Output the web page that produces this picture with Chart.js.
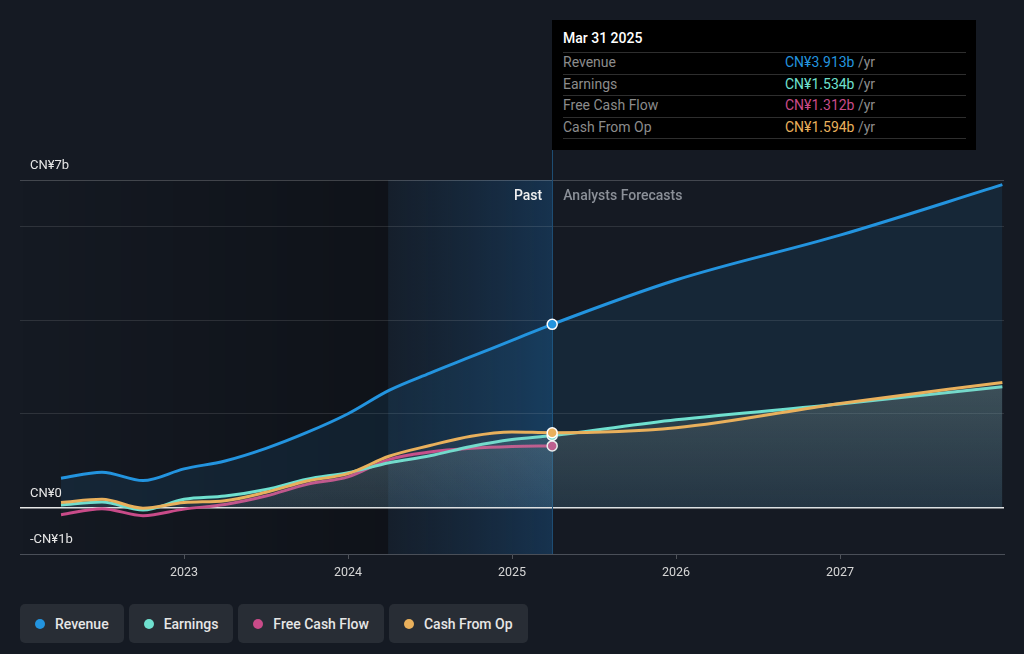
<!DOCTYPE html>
<html>
<head>
<meta charset="utf-8">
<script src="https://cdn.jsdelivr.net/npm/chart.js@4.4.1/dist/chart.umd.min.js"></script>
<style>
  html, body { margin: 0; padding: 0; background: #151a23; }
  body { width: 1024px; height: 654px; position: relative; overflow: hidden; font-family: Roboto, "Noto Sans", sans-serif; }
  #wrap { position: absolute; left: 0; top: 0; width: 1024px; height: 600px; }
  .tip { position: absolute; left: 552px; top: 20px; width: 424px; height: 130px; background: #000; }
  .tip .title { position: absolute; left: 11px; top: 10px; color: #fff; font-size: 14px; font-weight: 500; }
  .tip .row { position: absolute; left: 11px; width: 403px; height: 21px; border-top: 1px solid #2e2e2e; font-size: 14px; line-height: 18px; color: #8c8c8c; }
  .tip .row .v { position: absolute; left: 222px; top: 0; }
  .tip .row .u { color: #8c8c8c; }
  .tip .last { position: absolute; left: 11px; top: 118px; width: 403px; border-top: 1px solid #2e2e2e; }
  .legend { position: absolute; top: 604px; left: 20px; display: flex; gap: 5px; }
  .legend .item { height: 39px; background: #282d35; border-radius: 5px; display: flex; align-items: center; padding: 0 15px 0 15px; color: #e6e6e6; font-size: 14px; font-weight: 500; box-sizing: border-box; }
  .legend .dot { width: 10px; height: 10px; border-radius: 50%; margin-right: 10px; }
</style>
</head>
<body>
<div id="wrap"><canvas id="chart" width="1024" height="600"></canvas></div>
<div class="tip" id="tip"></div>
<div class="legend" id="legend"></div>
<script>
// reporting dates (fractional years) and values in CN¥ billions
const pastYears = [2022.25, 2022.5, 2022.75, 2023.0, 2023.25, 2023.5, 2023.75, 2024.0, 2024.25, 2024.5, 2024.75, 2025.0, 2025.245];
const revenuePast = [0.62, 0.75, 0.57, 0.82, 0.99, 1.26, 1.60, 2.00, 2.50, 2.87, 3.22, 3.57, 3.913];
const earningsPast = [0.05, 0.11, -0.06, 0.17, 0.24, 0.38, 0.60, 0.74, 0.95, 1.10, 1.30, 1.45, 1.534];
const fcfPast = [-0.16, -0.03, -0.18, -0.04, 0.06, 0.24, 0.49, 0.65, 1.02, 1.18, 1.26, 1.30, 1.312];
const cfoPast = [0.10, 0.17, -0.02, 0.10, 0.14, 0.32, 0.56, 0.72, 1.09, 1.32, 1.52, 1.61, 1.594];

const forecastYears = [2025.245, 2026.0, 2027.0, 2027.99];
const revenueForecast = [3.913, 4.86, 5.82, 6.9];
const earningsForecast = [1.534, 1.87, 2.21, 2.58];
const cfoForecast = [1.594, 1.70, 2.22, 2.67];

const xTicks = [2023, 2024, 2025, 2026, 2027];
const yTicks = [-1, 0, 2, 4, 6, 7];
const yLabelled = { '-1': '-CN¥1b', '0': 'CN¥0', '7': 'CN¥7b' };

const markerDate = 'Mar 31 2025';
const markerYear = 2025.245;
const highlightStart = 2024.245;

const series = [
  { name: 'Revenue', color: '#2394df', past: revenuePast, fc: revenueForecast },
  { name: 'Earnings', color: '#6fe0cf', past: earningsPast, fc: earningsForecast },
  { name: 'Free Cash Flow', color: '#c94b89', past: fcfPast, fc: null },
  { name: 'Cash From Op', color: '#e9b05c', past: cfoPast, fc: cfoForecast }
];

function toPoints(xs, ys) {
  return xs.map((x, i) => ({ x: x, y: ys[i] }));
}

function rgba(hex, a) {
  const n = parseInt(hex.slice(1), 16);
  return 'rgba(' + (n >> 16) + ',' + ((n >> 8) & 255) + ',' + (n & 255) + ',' + a + ')';
}

function fillFor(s, idx) {
  return (ctx) => {
    const area = ctx.chart.chartArea;
    if (!area) return 'transparent';
    const y = ctx.chart.scales.y;
    if (idx === 0) {
      return rgba(s.color, 0.11);
    }
    const g = ctx.chart.ctx.createLinearGradient(0, y.getPixelForValue(2.6), 0, y.getPixelForValue(0));
    if (idx === 1) {
      g.addColorStop(0, 'rgba(140,185,170,0.2)');
      g.addColorStop(1, 'rgba(140,175,165,0.08)');
    } else {
      g.addColorStop(0, 'rgba(160,160,165,0.12)');
      g.addColorStop(1, 'rgba(160,150,160,0.04)');
    }
    return g;
  };
}

const datasets = series.map((s, idx) => {
  const xs = s.fc ? pastYears.concat(forecastYears.slice(1)) : pastYears;
  const ys = s.fc ? s.past.concat(s.fc.slice(1)) : s.past;
  const markIdx = pastYears.length - 1;
  return {
    label: s.name,
    data: toPoints(xs, ys),
    borderColor: s.color,
    backgroundColor: fillFor(s, idx),
    fill: 'origin',
    borderWidth: 3,
    cubicInterpolationMode: 'monotone',
    pointRadius: (c) => c.dataIndex === markIdx ? 5 : 0,
    pointBackgroundColor: s.color,
    pointBorderColor: '#ffffff',
    pointBorderWidth: 1.5,
    order: [4, 2, 3, 1][idx]
  };
});

const bandsPlugin = {
  id: 'bands',
  beforeDraw(chart) {
    const { ctx, chartArea: a, scales } = chart;
    const xh = scales.x.getPixelForValue(highlightStart);
    const xm = scales.x.getPixelForValue(markerYear);
    ctx.save();
    let g = ctx.createLinearGradient(a.left, 0, xh, 0);
    g.addColorStop(0, 'rgba(0,0,0,0)');
    g.addColorStop(1, 'rgba(0,0,0,0.28)');
    ctx.fillStyle = g;
    ctx.fillRect(a.left, a.top, xh - a.left, a.bottom - a.top);
    g = ctx.createLinearGradient(xh, 0, xm, 0);
    g.addColorStop(0, 'rgba(25,70,110,0.12)');
    g.addColorStop(1, 'rgba(25,85,140,0.42)');
    ctx.fillStyle = g;
    ctx.fillRect(xh, a.top, xm - xh, a.bottom - a.top);
    ctx.restore();
  },
  afterDraw(chart) {
    const { ctx, chartArea: a, scales } = chart;
    const xm = scales.x.getPixelForValue(markerYear);
    ctx.save();
    ctx.font = '500 14px Roboto';
    ctx.textBaseline = 'middle';
    ctx.textAlign = 'right';
    ctx.fillStyle = '#f0f0f0';
    ctx.fillText('Past', xm - 10, a.top + 16);
    ctx.textAlign = 'left';
    ctx.fillStyle = '#8b9098';
    ctx.fillText('Analysts Forecasts', xm + 11, a.top + 16);
    ctx.restore();
  },
  beforeDatasetsDraw(chart) {
    const { ctx, chartArea: a, scales } = chart;
    const xm = Math.round(scales.x.getPixelForValue(markerYear)) + 0.5;
    ctx.save();
    ctx.strokeStyle = '#1d4d73';
    ctx.lineWidth = 1;
    ctx.beginPath();
    ctx.moveTo(xm, 150);
    ctx.lineTo(xm, a.bottom);
    ctx.stroke();
    ctx.restore();
  }
};

const chart = new Chart(document.getElementById('chart').getContext('2d'), {
  type: 'line',
  data: { datasets: datasets },
  plugins: [bandsPlugin],
  options: {
    responsive: false,
    animation: false,
    layout: { padding: { left: 20, right: 20, top: 180, bottom: 0 } },
    plugins: { legend: { display: false }, tooltip: { enabled: false } },
    scales: {
      x: {
        type: 'linear',
        min: 2022,
        max: 2028,
        afterBuildTicks: (s) => { s.ticks = xTicks.map(v => ({ value: v })); },
        afterFit: (s) => { s.height = 46; },
        grid: { drawOnChartArea: false, color: 'rgba(255,255,255,0.25)', tickLength: 5 },
        border: { display: true, color: '#4a4f58', width: 1 },
        ticks: { color: '#d6d6d6', font: { family: 'Roboto', size: 12.5 }, padding: 6, callback: (v) => String(v) }
      },
      y: {
        min: -1,
        max: 7,
        afterBuildTicks: (s) => { s.ticks = yTicks.map(v => ({ value: v })); },
        afterFit: (s) => { s.width = 0; },
        border: { display: false },
        grid: {
          drawTicks: false,
          color: (c) => c.tick.value === 0 ? '#e6e6e6' : (c.tick.value === 7 ? 'rgba(255,255,255,0.2)' : 'rgba(255,255,255,0.11)'),
          lineWidth: (c) => c.tick.value === 0 ? 1.5 : 1
        },
        ticks: {
          mirror: true,
          padding: 10,
          labelOffset: -14,
          color: '#e6e6e6',
          font: { family: 'Roboto', size: 13 },
          callback: (v) => yLabelled[String(v)] || ''
        }
      }
    }
  }
});

// tooltip panel for the marker date
const tip = document.getElementById('tip');
let html = '<div class="title">' + markerDate + '</div>';
series.forEach((s, i) => {
  const v = s.past[s.past.length - 1];
  html += '<div class="row" style="top:' + (32 + i * 21.5) + 'px">' + s.name +
    '<span class="v"><span style="color:' + s.color + '">CN¥' + v.toFixed(3) + 'b</span> <span class="u">/yr</span></span></div>';
});
html += '<div class="last"></div>';
tip.innerHTML = html;

// legend buttons
const legend = document.getElementById('legend');
series.forEach(s => {
  const item = document.createElement('div');
  item.className = 'item';
  item.innerHTML = '<span class="dot" style="background:' + s.color + '"></span>' + s.name;
  legend.appendChild(item);
});
</script>
</body>
</html>
